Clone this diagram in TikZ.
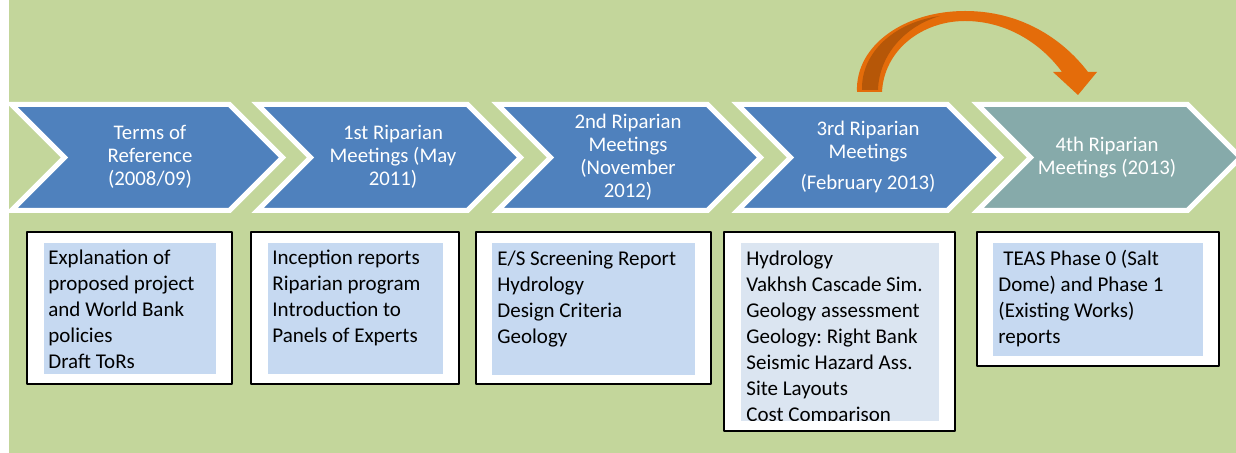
\documentclass[tikz,border=0pt]{standalone}
\usepackage{fontspec}
\setmainfont{Carlito}
\frenchspacing
\definecolor{bgGreen}{RGB}{195,214,155}
\definecolor{chevBlue}{RGB}{79,129,189}
\definecolor{chevTeal}{RGB}{134,170,170}
\definecolor{boxBlue}{RGB}{198,217,241}
\definecolor{boxPale}{RGB}{219,229,241}
\definecolor{arrOrange}{RGB}{228,108,10}
\definecolor{arrDark}{RGB}{182,87,8}
\tikzset{
  chev/.style={fill=chevBlue,draw=white,line width=2.5pt,line join=miter},
  chevtext/.style={text=white,align=center,inner sep=0pt,font=\fontsize{10.4}{11.5}\selectfont},
  outbox/.style={fill=white,draw=black,line width=1pt},
  inbox/.style={fill=boxBlue},
  boxtext/.style={anchor=north west,align=left,inner sep=0pt,execute at begin node=\strut,font=\fontsize{10.5}{13}\selectfont}
}
\begin{document}
\begin{tikzpicture}[x=0.5pt,y=-0.5pt,line join=round]
\useasboundingbox (0,0) rectangle (1236,453);
\fill[white] (0,0) rectangle (1236,453);
\fill[bgGreen] (9,0) rectangle (1236,453);
% timeline chevrons
\draw[chev] (11.5,104.5) -- (229.5,104.5) -- (282.5,157.5) -- (229.5,210.5) -- (11.5,210.5) -- (64.5,157.5) -- cycle;
\draw[chev] (257.5,104.5) -- (467.5,104.5) -- (520.5,157.5) -- (467.5,210.5) -- (257.5,210.5) -- (310.5,157.5) -- cycle;
\draw[chev] (497.5,104.5) -- (707.5,104.5) -- (760.5,157.5) -- (707.5,210.5) -- (497.5,210.5) -- (550.5,157.5) -- cycle;
\draw[chev] (737.5,104.5) -- (947.5,104.5) -- (1000.5,157.5) -- (947.5,210.5) -- (737.5,210.5) -- (790.5,157.5) -- cycle;
\draw[chev,fill=chevTeal] (977.5,104.5) -- (1187.5,104.5) -- (1240.5,157.5) -- (1187.5,210.5) -- (977.5,210.5) -- (1030.5,157.5) -- cycle;
\node[chevtext] (tor) at (150,157) {Terms of\\Reference\\(2008/09)};
\node[chevtext] (rm1) at (393,157) {1st Riparian\\Meetings (May\\2011)};
\node[chevtext] (rm2) at (628,157.5) {2nd Riparian\\Meetings\\(November\\2012)};
\node[chevtext] (rm3) at (868,157) {3rd Riparian\\Meetings\\[4pt](February 2013)};
\node[chevtext] (rm4) at (1107,157.5) {4th Riparian\\Meetings (2013)};
% curved arrow
\fill[arrOrange] (857,92) .. controls (855,45) and (905,11) .. (965,11) .. controls (1020,11) and (1062,38) .. (1088,72)
  -- (1097,72) -- (1078,95) -- (1053,72) -- (1062,72) .. controls (1040,42) and (1005,21) .. (965,21)
  .. controls (922,21) and (884,50) .. (882,92) -- cycle;
\fill[arrDark] (862,90) .. controls (861,52) and (895,22) .. (940,16) .. controls (905,26) and (879,55) .. (878,90) -- cycle;
% outcome boxes
\draw[outbox] (27,232) rectangle (232,384);
\fill[inbox] (44,243) rectangle (216,374);
\node[boxtext] (tor-list) at (48,250) {Explanation of\\proposed project\\and World Bank\\policies\\Draft ToRs};
\draw[outbox] (251,232) rectangle (459,384);
\fill[inbox] (268,243) rectangle (443,374);
\node[boxtext] (rm1-list) at (272,250) {Inception reports\\Riparian program\\Introduction to\\Panels of Experts};
\draw[outbox] (476,232) rectangle (711,384);
\fill[inbox] (492,243) rectangle (695,375);
\node[boxtext] (rm2-list) at (497,251) {E/S Screening Report\\Hydrology\\Design Criteria\\Geology};
\draw[outbox] (724,232) rectangle (955,431);
\begin{scope}
\clip (741,243) rectangle (939,421);
\fill[boxPale] (741,243) rectangle (939,421);
\node[boxtext] (rm3-list) at (746,251) {Hydrology\\Vakhsh Cascade Sim.\\Geology assessment\\Geology: Right Bank\\Seismic Hazard Ass.\\Site Layouts\\Cost Comparison};
\end{scope}
\draw[outbox] (977,232) rectangle (1219,366);
\fill[inbox] (993,243) rectangle (1203,356);
\node[boxtext] (rm4-list) at (998,250) {\hspace*{2.5pt}TEAS Phase 0 (Salt\\Dome) and Phase 1\\(Existing Works)\\reports};
\end{tikzpicture}
\end{document}
